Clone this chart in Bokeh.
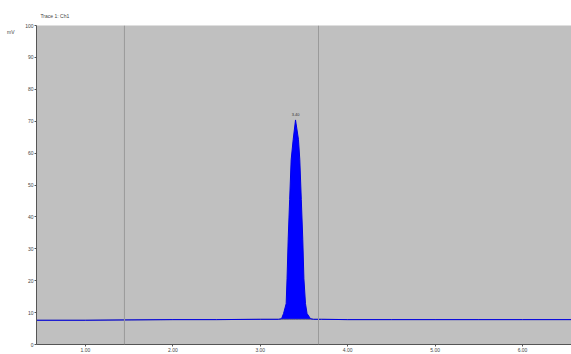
from bokeh.plotting import figure
from bokeh.models import FixedTicker, Label, Span, LinearAxis
from bokeh.embed import file_html
from bokeh.resources import INLINE

# Chromatogram trace (time in min, signal in mV)
time_min = [0.44, 1.00, 1.45, 2.00, 2.50, 3.00, 3.208, 3.243, 3.266, 3.296, 3.306,
            3.319, 3.336, 3.353, 3.376, 3.403, 3.437, 3.452, 3.469, 3.486, 3.499,
            3.517, 3.535, 3.574, 3.609, 3.70, 4.00, 4.50, 5.00, 5.50, 6.00, 6.56]
signal_mv = [7.6, 7.6, 7.7, 7.8, 7.8, 7.9, 7.9, 8.1, 9.7, 12.8, 20.6,
             33.0, 45.5, 57.9, 64.2, 70.4, 64.2, 57.9, 45.5, 33.0, 20.6,
             12.8, 9.7, 8.1, 7.9, 7.9, 7.8, 7.8, 7.8, 7.8, 7.8, 7.8]
baseline_mv = [7.6, 7.6, 7.7, 7.8, 7.8, 7.9, 7.9, 7.9, 7.9, 7.9, 7.9,
               7.9, 7.9, 7.9, 7.9, 7.9, 7.9, 7.9, 7.9, 7.9, 7.9,
               7.9, 7.9, 7.9, 7.9, 7.9, 7.8, 7.8, 7.8, 7.8, 7.8, 7.8]

x_ticks = [1, 2, 3, 4, 5, 6]
x_tick_labels = ["1.00", "2.00", "3.00", "4.00", "5.00", "6.00"]
y_ticks = [0, 10, 20, 30, 40, 50, 60, 70, 80, 90, 100]
y_tick_labels = ["0", "10", "20", "30", "40", "50", "60", "70", "80", "90", "100"]

marker_times = [1.446, 3.666]
peak_time = 3.403
peak_height = 70.4
peak_label = "3.40"
title_text = "Trace 1: Ch1"
y_unit = "mV"
y_unit_pos = 98

p = figure(width=571, height=354, output_backend="svg", toolbar_location=None,
           x_range=(0.44, 6.56), y_range=(0, 100), title=title_text)
p.min_border_left = 36
p.min_border_right = 0
p.min_border_top = 25
p.min_border_bottom = 9
p.background_fill_color = "#c0c0c0"
p.border_fill_color = "white"
p.outline_line_color = None
p.grid.visible = False

p.title.text_font_size = "5px"
p.title.text_font_style = "normal"
p.title.text_color = "#444444"
p.title.offset = 4
p.title.standoff = 13

for t in marker_times:
    p.add_layout(Span(location=t, dimension="height", line_color="#9a9a9a", line_width=1))

p.varea(x=time_min, y1=baseline_mv, y2=signal_mv, fill_color="#0000ff")
p.line(x=time_min, y=baseline_mv, line_color="#6a6a80", line_width=1)
p.line(x=time_min, y=signal_mv, line_color="#0000e6", line_width=1)

for ax in (p.xaxis[0], p.yaxis[0]):
    ax.major_label_text_font_size = "5px"
    ax.major_label_text_color = "#444444"
    ax.axis_line_color = "#555555"
    ax.major_tick_line_color = "#555555"
    ax.major_tick_out = 2
    ax.major_tick_in = 0
    ax.minor_tick_line_color = None
    ax.major_label_standoff = 1

p.xaxis[0].ticker = FixedTicker(ticks=x_ticks)
p.xaxis[0].major_label_overrides = dict(zip(x_ticks, x_tick_labels))
p.yaxis[0].ticker = FixedTicker(ticks=y_ticks)
p.yaxis[0].major_label_overrides = dict(zip(y_ticks, y_tick_labels))

unit_axis = LinearAxis(ticker=FixedTicker(ticks=[y_unit_pos]),
                       major_label_overrides={y_unit_pos: y_unit},
                       axis_line_color=None, major_tick_line_color=None,
                       minor_tick_line_color=None, major_label_standoff=2,
                       major_label_text_font_size="5px",
                       major_label_text_color="#444444")
p.add_layout(unit_axis, "left")

p.add_layout(Label(x=peak_time, y=peak_height + 1.2, text=peak_label,
                   text_font_size="4px", text_align="center", text_baseline="bottom",
                   text_color="#333333"))

open("out.html", "w").write(file_html(p, INLINE))
